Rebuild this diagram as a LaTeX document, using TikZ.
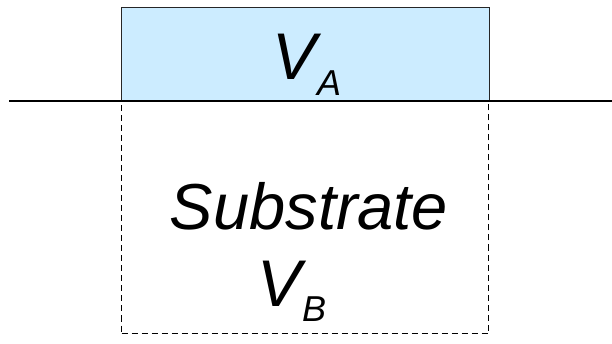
\documentclass[tikz,border=0pt]{standalone}
\usepackage{fontspec}
\setmainfont{Liberation Sans}
\definecolor{filmcol}{HTML}{CCECFF}
\tikzset{
  film/.style={rectangle, draw=black!85, fill=filmcol, line width=1pt, inner sep=0pt},
  subst/.style={rectangle, draw, dash pattern=on 6pt off 4pt, line width=1pt, inner sep=0pt},
  lbl/.style={font=\fontsize{66}{72}\selectfont\itshape, inner sep=0pt, anchor=base},
}
\newcommand{\volt}[1]{V\raisebox{-15.5pt}{\fontsize{36}{36}\selectfont #1}}

\begin{document}
\begin{tikzpicture}[x=1pt, y=-1pt]
  \useasboundingbox (0,0) rectangle (612,344);
  \node[subst, minimum width=367pt, minimum height=232pt, anchor=north west] (B) at (121,101) {};
  \node[film, minimum width=368pt, minimum height=94pt, anchor=north west] (A) at (121,7) {};
  \coordinate (L) at (9,101);
  \coordinate (R) at (612,101);
  \draw[line width=2pt] (L) -- (R);
  \node[lbl] (va) at (307,80) {\volt{A}};
  \node[lbl, font=\fontsize{65}{72}\selectfont\itshape] (sb) at (309,230) {Substrate};
  \node[lbl] (vb) at (292,306) {\volt{B}};
\end{tikzpicture}
\end{document}
